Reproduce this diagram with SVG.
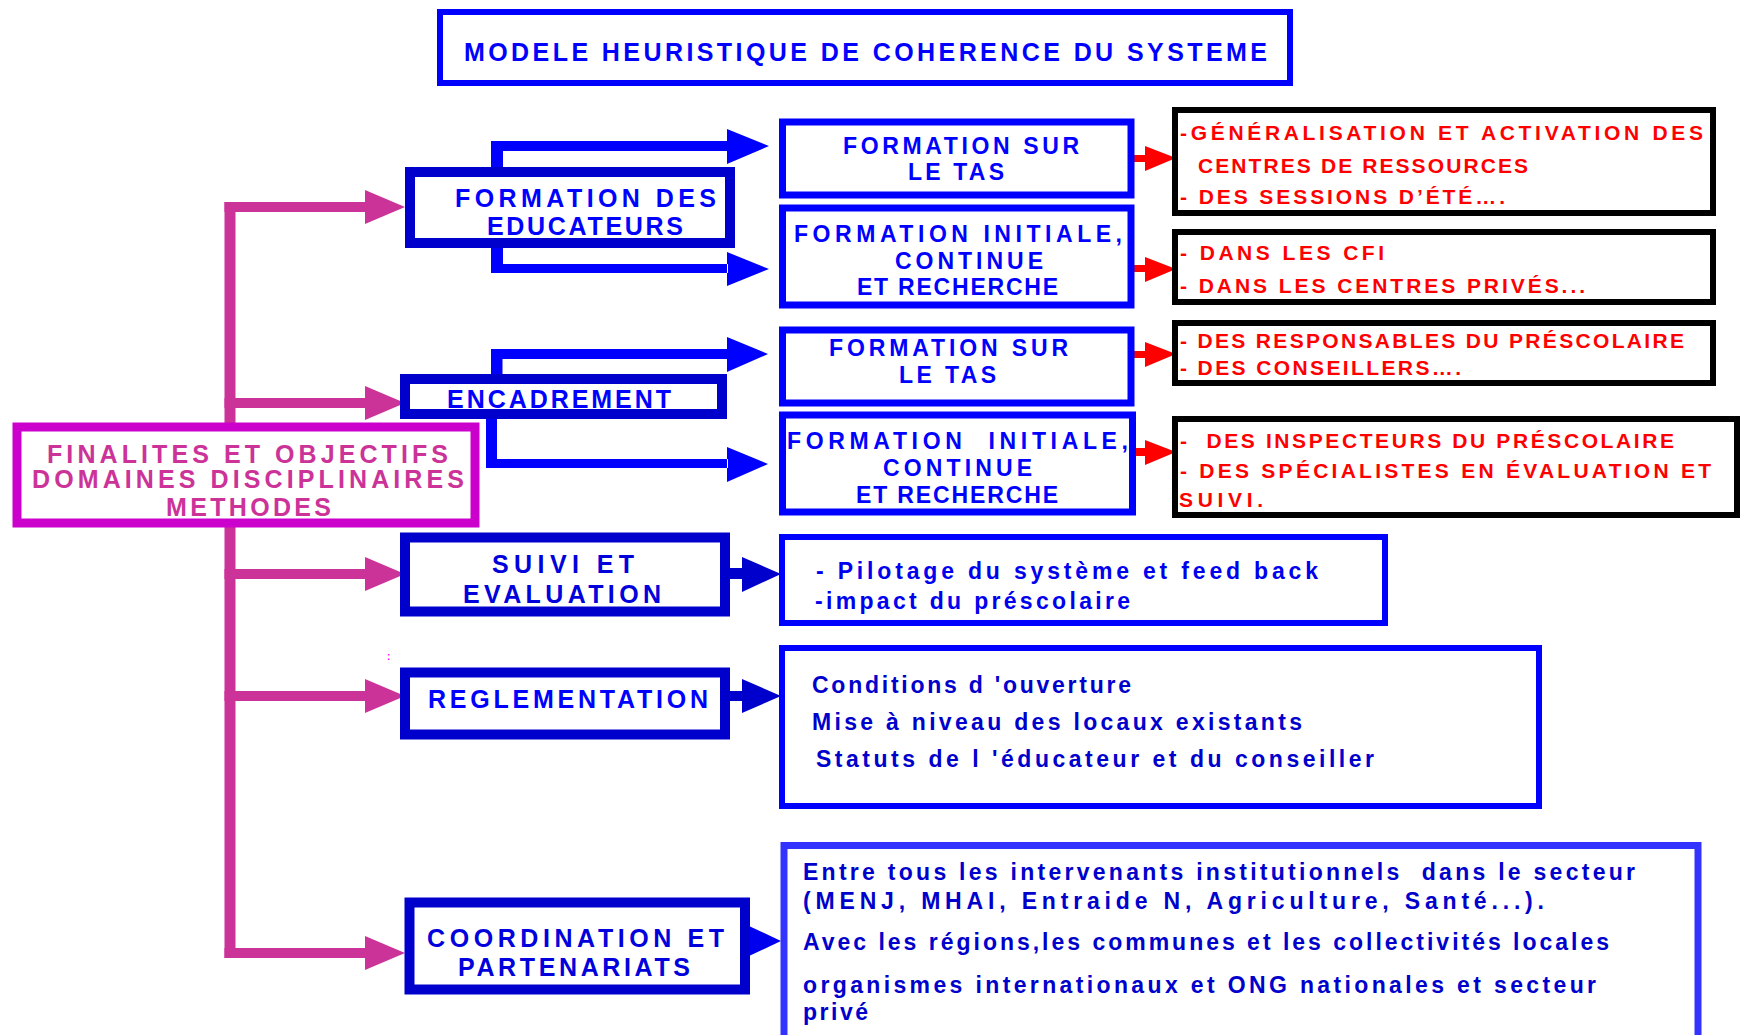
<svg xmlns="http://www.w3.org/2000/svg" width="1742" height="1035" viewBox="0 0 1742 1035">
<style>
text{font-family:"Liberation Sans",Arial,sans-serif;font-weight:bold}
.box{fill:#fff}
.main{stroke:#0000CC;stroke-width:10}
.sub{stroke:#0000FF;stroke-width:7}
.blk{stroke:#000;stroke-width:6}
.res{stroke:#0000FF;stroke-width:6}
.t1{font-size:25px;fill:#0000FF}
.t1d{font-size:25px;fill:#0000DD}
.t2{font-size:23px;fill:#0000FF}
.tr{font-size:21px;fill:#FF0000}
.tl{font-size:23px;fill:#0000EE}
.tld{font-size:23px;fill:#0000CC}
.pink{fill:#CC3399}
.blue{fill:#0000FF}
.dblue{fill:#0000CC}
.red{fill:#FF0000}
</style>
<rect width="1742" height="1035" fill="#fff"/>
<g id="connectors">
  <!-- pink trunk and branches -->
  <rect class="pink" x="224.5" y="202" width="11" height="756"/>
  <path class="pink" d="M224.5 202H366V212H224.5Z M365 190L405 207L365 224Z"/>
  <path class="pink" d="M224.5 398H366V408H224.5Z M365 386L405 403L365 420Z"/>
  <path class="pink" d="M224.5 569H366V579H224.5Z M365 557L405 574L365 591Z"/>
  <path class="pink" d="M224.5 691H366V701H224.5Z M365 679L405 696L365 713Z"/>
  <path class="pink" d="M224.5 948H366V958H224.5Z M365 936L405 953L365 970Z"/>
  <!-- blue elbows -->
  <path class="blue" d="M491 172V141H728V151H503V172Z M727 129L769 146L727 164Z"/>
  <path class="blue" d="M491 243V273H728V264H503V243Z M727 252L769 269L727 286Z"/>
  <path class="blue" d="M491 378V349H728V359H502.5V378Z M727 337L768 354L727 372Z"/>
  <path class="blue" d="M486 413V468H728V459H497V413Z M727 447L768 464L727 482Z"/>
  <!-- dark blue arrows -->
  <path class="dblue" d="M729 568H743V579H729Z M742 557L781 574L742 592Z"/>
  <path class="dblue" d="M729 691H743V701H729Z M742 679L781 696L742 713Z"/>
  <path fill="#0000EE" d="M749 926L781 941L749 956Z"/>
  <!-- red arrows -->
  <path class="red" d="M1129 155H1146V162H1129Z M1145 146L1176 158L1145 171Z"/>
  <path class="red" d="M1129 265H1146V272H1129Z M1145 257L1176 269L1145 282Z"/>
  <path class="red" d="M1129 351H1146V358H1129Z M1145 342L1176 354L1145 367Z"/>
  <path class="red" d="M1129 448H1146V456H1129Z M1145 440L1176 452L1145 465Z"/>
</g>
<g id="title">
  <rect class="box" x="440" y="12" width="850" height="71" stroke="#0000FF" stroke-width="6"/>
  <text class="t1" x="464" y="61" textLength="803" lengthAdjust="spacing">MODELE HEURISTIQUE DE COHERENCE DU SYSTEME</text>
</g>
<g id="finalites">
  <rect class="box" x="17" y="427" width="458" height="96" stroke="#CC00CC" stroke-width="9"/>
  <text x="47" y="463" textLength="401" lengthAdjust="spacing" style="font-size:25px;fill:#CC3399">FINALITES ET OBJECTIFS</text>
  <text x="32" y="488" textLength="432" lengthAdjust="spacing" style="font-size:25px;fill:#CC3399">DOMAINES DISCIPLINAIRES</text>
  <text x="166" y="516" textLength="165" lengthAdjust="spacing" style="font-size:25px;fill:#CC3399">METHODES</text>
</g>
<g id="formation-educateurs">
  <rect class="box main" x="410" y="172" width="320" height="71"/>
  <text class="t1" x="455" y="207" textLength="261" lengthAdjust="spacing">FORMATION DES</text>
  <text class="t1" x="487" y="235" textLength="196" lengthAdjust="spacing">EDUCATEURS</text>
</g>
<g id="encadrement">
  <rect class="box main" x="405" y="379" width="317" height="35"/>
  <text class="t1" x="447" y="408" textLength="224" lengthAdjust="spacing">ENCADREMENT</text>
</g>
<g id="suivi">
  <rect class="box main" x="405" y="537.5" width="320" height="74"/>
  <text class="t1d" x="492" y="573" textLength="142" lengthAdjust="spacing">SUIVI ET</text>
  <text class="t1d" x="463" y="603" textLength="198" lengthAdjust="spacing">EVALUATION</text>
</g>
<g id="reglementation">
  <rect class="box main" x="405" y="672.5" width="320" height="62"/>
  <text class="t1" x="428" y="708" textLength="280" lengthAdjust="spacing">REGLEMENTATION</text>
  <text x="387" y="660" style="font-size:10px;fill:#FF00FF">:</text>
</g>
<g id="coordination">
  <rect class="box main" x="409.5" y="902.5" width="335.5" height="87"/>
  <text class="t1d" x="427" y="947" textLength="297" lengthAdjust="spacing">COORDINATION ET</text>
  <text class="t1d" x="458" y="976" textLength="232" lengthAdjust="spacing">PARTENARIATS</text>
</g>
<g id="formation-tas-1">
  <rect class="box sub" x="782.5" y="122" width="348.5" height="73"/>
  <text class="t2" x="843" y="154" textLength="236" lengthAdjust="spacing">FORMATION SUR</text>
  <text class="t2" x="908" y="180" textLength="96" lengthAdjust="spacing">LE TAS</text>
</g>
<g id="formation-initiale-1">
  <rect class="box sub" x="782.5" y="208" width="348.5" height="97"/>
  <text class="t2" x="794" y="242" textLength="328" lengthAdjust="spacing">FORMATION INITIALE,</text>
  <text class="t2" x="895" y="269" textLength="148" lengthAdjust="spacing">CONTINUE</text>
  <text class="t2" x="857" y="295" textLength="201" lengthAdjust="spacing">ET RECHERCHE</text>
</g>
<g id="formation-tas-2">
  <rect class="box sub" x="782.5" y="330" width="348.5" height="73"/>
  <text class="t2" x="829" y="356" textLength="239" lengthAdjust="spacing">FORMATION SUR</text>
  <text class="t2" x="899" y="383" textLength="97" lengthAdjust="spacing">LE TAS</text>
</g>
<g id="formation-initiale-2">
  <rect class="box sub" x="782.5" y="415" width="350" height="97"/>
  <text class="t2" x="787" y="449" textLength="341" lengthAdjust="spacing" xml:space="preserve">FORMATION  INITIALE,</text>
  <text class="t2" x="883" y="476" textLength="149" lengthAdjust="spacing">CONTINUE</text>
  <text class="t2" x="856" y="503" textLength="202" lengthAdjust="spacing">ET RECHERCHE</text>
</g>
<g id="detail-1">
  <rect class="box blk" x="1175" y="110" width="538" height="103"/>
  <text class="tr" x="1180" y="140" textLength="523" lengthAdjust="spacing">-GÉNÉRALISATION ET ACTIVATION DES</text>
  <text class="tr" x="1198" y="173" textLength="330" lengthAdjust="spacing">CENTRES DE RESSOURCES</text>
  <text class="tr" x="1180" y="204" textLength="325" lengthAdjust="spacing">- DES SESSIONS D’ÉTÉ….</text>
</g>
<g id="detail-2">
  <rect class="box blk" x="1175" y="232" width="538" height="70"/>
  <text class="tr" x="1180" y="260" textLength="204" lengthAdjust="spacing">- DANS LES CFI</text>
  <text class="tr" x="1180" y="293" textLength="405" lengthAdjust="spacing">- DANS LES CENTRES PRIVÉS...</text>
</g>
<g id="detail-3">
  <rect class="box blk" x="1175" y="323" width="538" height="60"/>
  <text class="tr" x="1180" y="348" textLength="504" lengthAdjust="spacing">- DES RESPONSABLES DU PRÉSCOLAIRE</text>
  <text class="tr" x="1180" y="375" textLength="281" lengthAdjust="spacing">- DES CONSEILLERS….</text>
</g>
<g id="detail-4">
  <rect class="box blk" x="1175" y="419" width="562" height="96"/>
  <text class="tr" x="1180" y="448" textLength="494" lengthAdjust="spacing" xml:space="preserve">-  DES INSPECTEURS DU PRÉSCOLAIRE</text>
  <text class="tr" x="1180" y="478" textLength="531" lengthAdjust="spacing">- DES SPÉCIALISTES EN ÉVALUATION ET</text>
  <text class="tr" x="1179" y="507" textLength="84" lengthAdjust="spacing">SUIVI.</text>
</g>
<g id="pilotage">
  <rect class="box res" x="782" y="537" width="603" height="86"/>
  <text class="tl" x="816" y="579" textLength="502" lengthAdjust="spacing">- Pilotage du système et feed back</text>
  <text class="tl" x="815" y="609" textLength="315" lengthAdjust="spacing">-impact du préscolaire</text>
</g>
<g id="conditions">
  <rect class="box res" x="782" y="648" width="757" height="158"/>
  <text class="tld" x="812" y="693" textLength="319" lengthAdjust="spacing">Conditions d 'ouverture</text>
  <text class="tld" x="812" y="730" textLength="490" lengthAdjust="spacing">Mise à niveau des locaux existants</text>
  <text class="tld" x="816" y="767" textLength="558" lengthAdjust="spacing">Statuts de l 'éducateur et du conseiller</text>
</g>
<g id="partenaires">
  <rect class="box" x="784" y="845.5" width="914" height="200" stroke="#3333FF" stroke-width="7"/>
  <text class="tld" x="803" y="880" textLength="832" lengthAdjust="spacing" xml:space="preserve">Entre tous les intervenants institutionnels  dans le secteur</text>
  <text class="tld" x="803" y="909" textLength="741" lengthAdjust="spacing">(MENJ, MHAI, Entraide N, Agriculture, Santé...).</text>
  <text class="tld" x="803" y="950" textLength="806" lengthAdjust="spacing">Avec les régions,les communes et les collectivités locales</text>
  <text class="tld" x="803" y="993" textLength="793" lengthAdjust="spacing">organismes internationaux et ONG nationales et secteur</text>
  <text class="tld" x="803" y="1020" textLength="65" lengthAdjust="spacing">privé</text>
</g>
</svg>
